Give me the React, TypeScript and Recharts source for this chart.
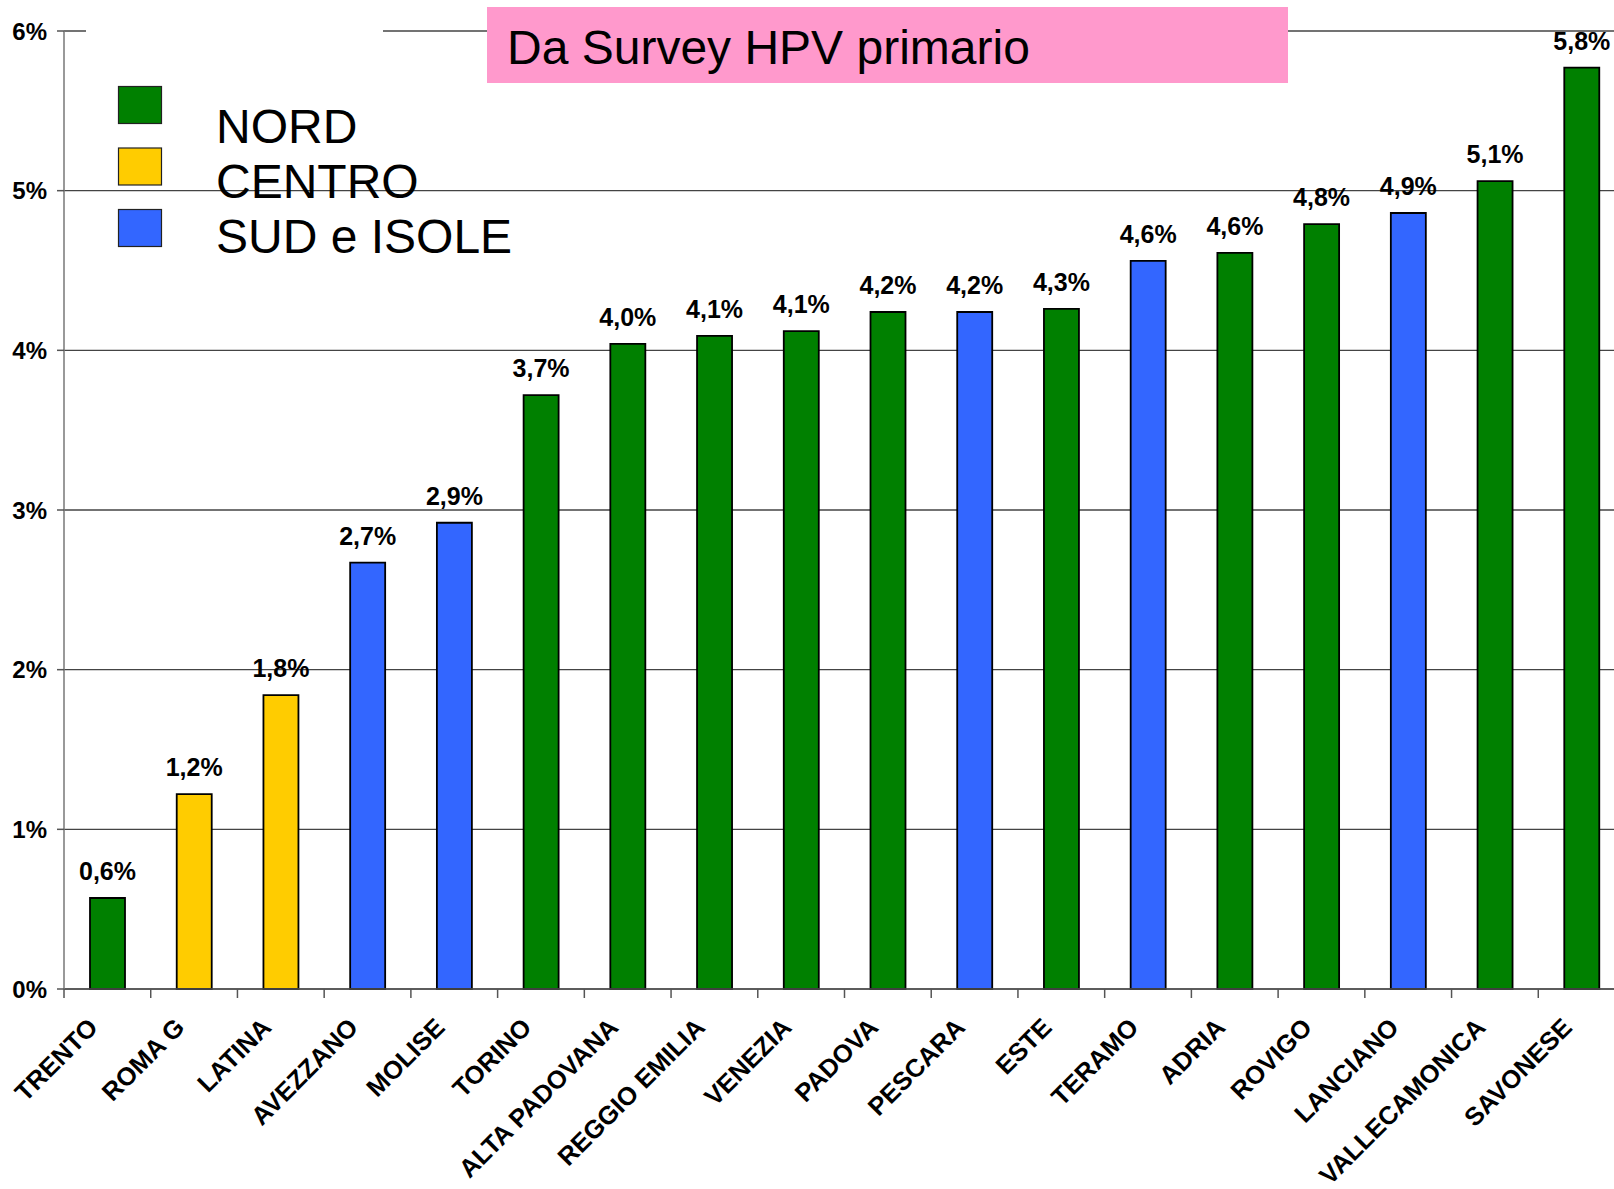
import React from 'react';
import { BarChart, Bar, XAxis, YAxis, CartesianGrid, Cell, LabelList } from 'recharts';

const categories = ['TRENTO', 'ROMA G', 'LATINA', 'AVEZZANO', 'MOLISE', 'TORINO', 'ALTA PADOVANA', 'REGGIO EMILIA', 'VENEZIA', 'PADOVA', 'PESCARA', 'ESTE', 'TERAMO', 'ADRIA', 'ROVIGO', 'LANCIANO', 'VALLECAMONICA', 'SAVONESE'];
const values = [0.57, 1.22, 1.84, 2.67, 2.92, 3.72, 4.04, 4.09, 4.12, 4.24, 4.24, 4.26, 4.56, 4.61, 4.79, 4.86, 5.06, 5.77];
const valueLabels = ['0,6%', '1,2%', '1,8%', '2,7%', '2,9%', '3,7%', '4,0%', '4,1%', '4,1%', '4,2%', '4,2%', '4,3%', '4,6%', '4,6%', '4,8%', '4,9%', '5,1%', '5,8%'];
const regions = ['NORD', 'CENTRO', 'CENTRO', 'SUD', 'SUD', 'NORD', 'NORD', 'NORD', 'NORD', 'NORD', 'SUD', 'NORD', 'SUD', 'NORD', 'NORD', 'SUD', 'NORD', 'NORD'];
const legendNames = ['NORD', 'CENTRO', 'SUD e ISOLE'];
const legendKeys = ['NORD', 'CENTRO', 'SUD'];
const regionColors: Record<string, string> = { NORD: '#008000', CENTRO: '#FFCC00', SUD: '#3366FF' };
const yTicks = [0, 1, 2, 3, 4, 5, 6];
const title = 'Da Survey HPV primario';

const data = categories.map((c, i) => ({ name: c, value: values[i], label: valueLabels[i], region: regions[i] }));

const FONT = '"Liberation Sans", Arial, sans-serif';
const CHART_W = 1625;
const CHART_H = 1189;
const YAXIS_W = 64;
const BAND = (CHART_W - YAXIS_W) / categories.length;

const XTick = (props: any) => {
  const { x, y, payload } = props;
  const bx = x - BAND / 2;
  const ax = x - 8;
  const ay = y + 40;
  return (
    <g>
      <line x1={bx} y1={y} x2={bx} y2={y + 9} stroke="#555" strokeWidth={1.5} />
      <text
        x={ax}
        y={ay}
        textAnchor="end"
        transform={`rotate(-45, ${ax}, ${ay})`}
        fontFamily={FONT}
        fontWeight="bold"
        fontSize={25.5}
        fill="#000"
      >
        {payload.value}
      </text>
    </g>
  );
};

export default function App() {
  return (
    <div style={{ position: 'absolute', left: 0, top: 0, width: 1614, height: 1189, overflow: 'hidden', background: '#fff' }}>
      <BarChart
        width={CHART_W}
        height={CHART_H}
        data={data}
        margin={{ top: 31, right: 0, bottom: 0, left: 0 }}
        barSize={35}
      >
        <CartesianGrid vertical={false} stroke="#444" strokeWidth={1.3} />
        <XAxis
          dataKey="name"
          interval={0}
          height={200}
          tickLine={false}
          tickSize={0}
          tickMargin={0}
          tick={<XTick />}
          axisLine={{ stroke: '#555', strokeWidth: 1.5 }}
        />
        <YAxis
          width={YAXIS_W}
          domain={[0, 6]}
          ticks={yTicks}
          interval={0}
          tickSize={7}
          tickMargin={10}
          tickLine={{ stroke: '#555', strokeWidth: 1.5 }}
          axisLine={{ stroke: '#777', strokeWidth: 1.5 }}
          tickFormatter={(v: number) => `${v}%`}
          tick={{ fontFamily: FONT, fontWeight: 'bold', fontSize: 24, fill: '#000' }}
        />
        <Bar dataKey="value" isAnimationActive={false} stroke="#000" strokeWidth={1.8}>
          {data.map((d, i) => (
            <Cell key={i} fill={regionColors[d.region]} />
          ))}
          <LabelList
            dataKey="label"
            position="top"
            offset={18}
            style={{ fontFamily: FONT, fontWeight: 'bold', fontSize: 25, fill: '#000' }}
          />
        </Bar>
      </BarChart>
      <svg width={1614} height={300} style={{ position: 'absolute', left: 0, top: 0, pointerEvents: 'none' }}>
        <rect x={86} y={24} width={297} height={14} fill="#fff" />
        {legendKeys.map((k, i) => (
          <g key={k}>
            <rect x={118.5} y={86.5 + i * 61.5} width={43} height={37} fill={regionColors[k]} stroke="#222" strokeWidth={1.2} />
            <text x={216} y={143 + i * 55} fontFamily={FONT} fontSize={48} fill="#000">
              {legendNames[i]}
            </text>
          </g>
        ))}
        <rect x={487} y={7} width={801} height={76} fill="#FF99CC" />
        <text x={507} y={64} fontFamily={FONT} fontSize={48} fill="#000">
          {title}
        </text>
      </svg>
    </div>
  );
}
